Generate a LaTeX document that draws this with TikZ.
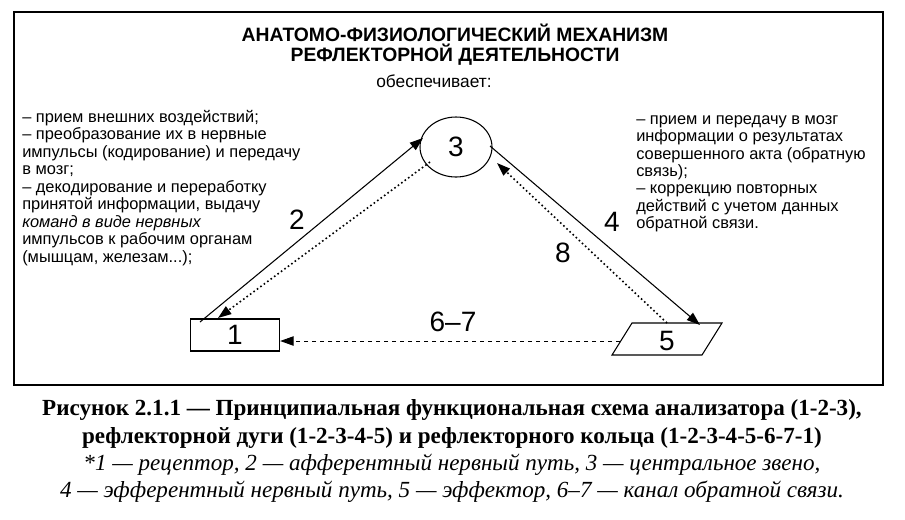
\documentclass[tikz,border=0pt]{standalone}
\usepackage{fontspec}
\setmainfont{Liberation Sans}
\newfontfamily\capfont{Liberation Serif}
\usetikzlibrary{shapes.geometric,arrows.meta}
\begin{document}
\begin{tikzpicture}[x=0.75pt,y=-0.75pt,
  txt/.style={anchor=north west,align=left,inner sep=0pt,font=\fontsize{12.3}{13.1}\selectfont},
  num/.style={font=\fontsize{21}{24}\selectfont,inner sep=0pt},
  sarrow/.style={draw,line width=0.8pt,-{Triangle[length=10pt,width=7pt]}},
  darrow/.style={draw,line width=1.2pt,dotted,-{Triangle[length=10pt,width=7pt]}},
  dasharrow/.style={draw,line width=0.7pt,dashed,-{Triangle[length=10pt,width=7pt]}}]
\useasboundingbox (0,0) rectangle (905,519);
\draw[line width=1.5pt] (14,12) rectangle (883,385);
\node[font=\bfseries\fontsize{14.5}{16}\selectfont,align=center] (t1) at (455,33) {АНАТОМО-ФИЗИОЛОГИЧЕСКИЙ МЕХАНИЗМ};
\node[font=\bfseries\fontsize{14.5}{16}\selectfont,align=center] (t2) at (455,55) {РЕФЛЕКТОРНОЙ ДЕЯТЕЛЬНОСТИ};
\node[font=\fontsize{13}{14}\selectfont] (t3) at (434,81) {обеспечивает:};
\node[txt] (lt) at (22,110) {– прием внешних воздействий;\\– преобразование их в нервные\\импульсы (кодирование) и передачу\\в мозг;\\– декодирование и переработку\\принятой информации, выдачу\\\textit{команд в виде нервных}\\импульсов к рабочим органам\\(мышцам, железам...);};
\node[txt] (rt) at (636,115) {– прием и передачу в мозг\\информации о результатах\\совершенного акта (обратную\\связь);\\– коррекцию повторных\\действий с учетом данных\\обратной связи.};
\node[draw,ellipse,line width=0.8pt,inner sep=0pt,minimum width=54pt,minimum height=45pt,num] (n3) at (456,147) {3};
\node[draw,line width=0.8pt,minimum width=67pt,minimum height=24pt,num] (n1) at (235,335) {1};
\draw[line width=0.8pt] (632,323) -- (722,323) -- (702,355) -- (612,355) -- cycle;
\node[num] (n5) at (667,341) {5};
\coordinate (e5) at (620,341);
\coordinate (a1) at (200,322);
\coordinate (a3) at (423,138);
\draw[sarrow] (a1) -- (a3);
\coordinate (b3) at (430,162);
\coordinate (b1) at (218,318);
\draw[darrow] (b3) -- (b1);
\coordinate (c3) at (490,146);
\coordinate (c5) at (700,325);
\draw[sarrow] (c3) -- (c5);
\coordinate (d5) at (667,323);
\coordinate (d3) at (497,163);
\draw[darrow] (d5) -- (d3);
\draw[dasharrow] (e5) -- (n1.east |- e5);
\node[num] (l2) at (297,220) {2};
\node[num] (l4) at (612,222) {4};
\node[num] (l8) at (563,253) {8};
\node[num] (l67) at (453,322) {6–7};
\node[font=\capfont\bfseries\fontsize{17.3}{20}\selectfont] (c1) at (452,410) {Рисунок 2.1.1 — Принципиальная функциональная схема анализатора (1-2-3),};
\node[font=\capfont\bfseries\fontsize{17.3}{20}\selectfont] (c2) at (452,438) {рефлекторной дуги (1-2-3-4-5) и рефлекторного кольца (1-2-3-4-5-6-7-1)};
\node[font=\capfont\itshape\fontsize{17.3}{20}\selectfont] (c3) at (452,465) {*1 — рецептор, 2 — афферентный нервный путь, 3 — центральное звено,};
\node[font=\capfont\itshape\fontsize{17.3}{20}\selectfont] (c4) at (452,492) {4 — эфферентный нервный путь, 5 — эффектор, 6–7 — канал обратной связи.};
\end{tikzpicture}
\end{document}
